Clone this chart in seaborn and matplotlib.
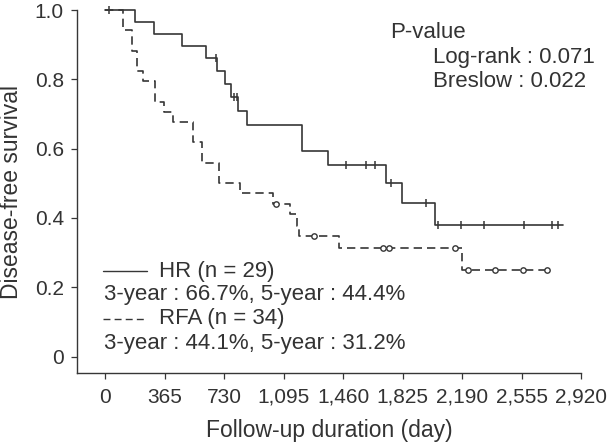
import numpy as np
import pandas as pd
import matplotlib
matplotlib.use("Agg")
import matplotlib.pyplot as plt
import seaborn as sns
from matplotlib.lines import Line2D

# Kaplan-Meier steps (day, survival after the drop)
hr_times = [184, 302, 470, 622, 685, 736, 773, 818, 869, 1206, 1370, 1722, 1820, 2024]
hr_surv = [0.966, 0.931, 0.897, 0.862, 0.825, 0.786, 0.748, 0.708, 0.667,
           0.593, 0.553, 0.500, 0.444, 0.381]
hr_end = 2807
hr_censor = [25, 679, 793, 809, 1478, 1601, 1658, 1752, 1967, 2040, 2186,
             2325, 2570, 2740, 2781]

rfa_times = [108, 163, 196, 235, 307, 362, 419, 537, 593, 697, 830, 1032,
             1135, 1176, 1191, 1437, 2192]
rfa_surv = [0.941, 0.882, 0.824, 0.794, 0.735, 0.706, 0.676, 0.618, 0.559,
            0.500, 0.471, 0.441, 0.410, 0.378, 0.347, 0.312, 0.250]
rfa_end = 2709
rfa_censor = [1049, 1285, 1705, 1740, 2147, 2229, 2392, 2562, 2709]

xticks = [0, 365, 730, 1095, 1460, 1825, 2190, 2555, 2920]
xtick_labels = ["0", "365", "730", "1,095", "1,460", "1,825", "2,190", "2,555", "2,920"]
yticks = [0, 0.2, 0.4, 0.6, 0.8, 1.0]
ytick_labels = ["0", "0.2", "0.4", "0.6", "0.8", "1.0"]

dark = "#363636"
txt = "#333333"


def step_frame(times, surv, end):
    x = [0] + list(times) + [end]
    y = [1.0] + list(surv) + [surv[-1]]
    return pd.DataFrame({"day": x, "surv": y})


def at_time(times, surv, t):
    # survival value of the step curve at time t
    idx = np.searchsorted(times, t, side="right")
    return 1.0 if idx == 0 else surv[idx - 1]


sns.set_style("ticks")
plt.rcParams["font.family"] = ["Liberation Sans", "DejaVu Sans"]

fig = plt.figure(figsize=(6.08, 4.47), dpi=100)
ax = fig.add_axes([0.1266, 0.1655, 0.829, 0.8121])

hr_df = step_frame(hr_times, hr_surv, hr_end)
rfa_df = step_frame(rfa_times, rfa_surv, rfa_end)

sns.lineplot(data=hr_df, x="day", y="surv", ax=ax, drawstyle="steps-post",
             color=dark, linewidth=1.2, clip_on=False)
sns.lineplot(data=rfa_df, x="day", y="surv", ax=ax, drawstyle="steps-post",
             color=dark, linewidth=1.2, dashes=False, linestyle=(0, (5, 3)), clip_on=False)

hr_c = pd.DataFrame({"day": hr_censor,
                     "surv": [at_time(hr_times, hr_surv, t) for t in hr_censor]})
rfa_c = pd.DataFrame({"day": rfa_censor,
                      "surv": [at_time(rfa_times, rfa_surv, t) for t in rfa_censor]})

ax.scatter(hr_c["day"], hr_c["surv"], marker="|", s=38, color=dark,
           linewidths=1.1, zorder=3, clip_on=False)
sns.scatterplot(data=rfa_c, x="day", y="surv", ax=ax, marker="o", s=15,
                facecolor="white", edgecolor=dark, linewidth=1.0, zorder=4)

ax.set_xlim(-172, 2920)
ax.set_ylim(-0.0476, 1.0)
ax.set_xticks(xticks)
ax.set_xticklabels(xtick_labels)
ax.set_yticks(yticks)
ax.set_yticklabels(ytick_labels)
ax.tick_params(direction="out", length=4.5, width=0.9, colors=dark,
               labelsize=15, labelcolor=txt)
ax.tick_params(axis="x", pad=6)
ax.tick_params(axis="y", pad=5)
for s in ["left", "bottom"]:
    ax.spines[s].set_color(dark)
    ax.spines[s].set_linewidth(1.0)
sns.despine(ax=ax)

ax.set_xlabel("Follow-up duration (day)", fontsize=16.5, color=txt)
ax.set_ylabel("Disease-free survival", fontsize=16.5, color=txt)
ax.xaxis.set_label_coords(0.5, -0.157)
ax.yaxis.set_label_coords(-0.129, 0.5)
ax.xaxis.label.set_va("center")
ax.yaxis.label.set_va("center")

# P-value block
fs = 16
ax.text(0.621, 0.939, "P-value", transform=ax.transAxes, fontsize=fs, color=txt, va="center")
ax.text(0.706, 0.870, "Log-rank : 0.071", transform=ax.transAxes, fontsize=fs, color=txt, va="center")
ax.text(0.706, 0.802, "Breslow : 0.022", transform=ax.transAxes, fontsize=fs, color=txt, va="center")

# legend block
ax.add_line(Line2D([0.0516, 0.1389], [0.281, 0.281], transform=ax.transAxes,
                   color=dark, linewidth=1.0))
ax.text(0.163, 0.281, "HR (n = 29)", transform=ax.transAxes, fontsize=fs, color=txt, va="center")
ax.text(0.0536, 0.215, "3-year : 66.7%, 5-year : 44.4%", transform=ax.transAxes,
        fontsize=fs, color=txt, va="center")
ax.add_line(Line2D([0.0516, 0.1389], [0.149, 0.149], transform=ax.transAxes,
                   color=dark, linewidth=1.0, linestyle=(0, (5, 3))))
ax.text(0.163, 0.149, "RFA (n = 34)", transform=ax.transAxes, fontsize=fs, color=txt, va="center")
ax.text(0.0536, 0.0826, "3-year : 44.1%, 5-year : 31.2%", transform=ax.transAxes,
        fontsize=fs, color=txt, va="center")

fig.savefig("out.png", dpi=100)
